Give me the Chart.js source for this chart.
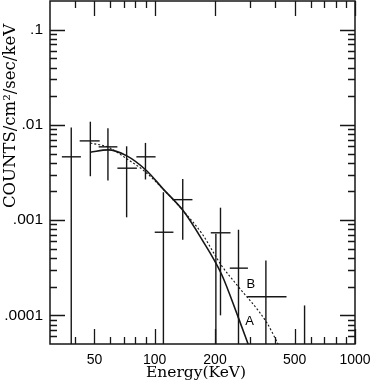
<!DOCTYPE html>
<html>
<head>
<meta charset="utf-8">
<script src="https://cdn.jsdelivr.net/npm/chart.js@4.4.1/dist/chart.umd.min.js"></script>
<style>
  html, body { margin: 0; padding: 0; background: #fff; }
</style>
</head>
<body>
<canvas id="chart" width="374" height="382"></canvas>
<script>
// measured spectrum points (keV, counts/cm2/sec/keV) with error bar ends
const energy   = [38.3, 47.7, 58.4, 72.4, 89.9, 110.5, 138, 202, 213, 262, 359, 560]
const energyLo = [34.4, 42.2, 52.5, 65.1, 81.0, 100, 122.5, 202, 190.5, 237, 289.5, 560]
const energyHi = [42.8, 53.1, 65.1, 81.5, 101, 124, 154.3, 202, 239, 292, 455, 560]
const counts   = [0.00462, 0.00679, 0.00588, 0.00351, 0.00462, 0.000746, 0.00164, 0.00003, 0.000736, 0.000313, 0.000157, 0.00003]
const countsLo = [1e-6, 0.00289, 0.0026, 0.00107, 0.00267, 1e-6, 0.000621, 1e-6, 0.0001, 1e-6, 1e-6, 1e-6]
const countsHi = [0.0094, 0.0108, 0.00921, 0.00596, 0.00647, 0.00196, 0.00271, 0.00072, 0.00135, 0.00079, 0.000377, 0.000127]

// model A (solid) and model B (dotted)
const energyA = [47.7, 58.4, 72.2, 90.9, 110, 138.5, 171, 215.6, 261, 293]
const fitA    = [0.00516, 0.00547, 0.00476, 0.00332, 0.00213, 0.00126, 0.00064, 0.00027, 0.0000957, 0.0000495]
const energyB = [47.7, 58.4, 72.2, 89, 111, 138.5, 172.4, 215.6, 261, 362, 413]
const fitB    = [0.00644, 0.00585, 0.00443, 0.00326, 0.00208, 0.00126, 0.000718, 0.000333, 0.000201, 0.0000843, 0.00005]

// curve labels
const curveNames  = ['A', 'B']
const curveLabelX = [298, 302]
const curveLabelY = [0.0000873, 0.000211]

// axes
const xTickValues = [50, 100, 200, 500, 1000]
const xTickLabels = ['50', '100', '200', '500', '1000']
const xMinorTicks = [40, 60, 70, 80, 90, 300, 400, 600, 700, 800, 900]
const yTickValues = [0.0001, 0.001, 0.01, 0.1]
const yTickLabels = ['.0001', '.001', '.01', '.1']
const yMinorTicks = [0.00006, 0.00007, 0.00008, 0.00009,
  0.0002, 0.0003, 0.0004, 0.0005, 0.0006, 0.0007, 0.0008, 0.0009,
  0.002, 0.003, 0.004, 0.005, 0.006, 0.007, 0.008, 0.009,
  0.02, 0.03, 0.04, 0.05, 0.06, 0.07, 0.08, 0.09]
const xTitle = 'Energy(KeV)'
const yTitle = 'COUNTS/cm\u00b2/sec/keV'

const INK = '#161616'

const datasets = []
energy.forEach((e, i) => {
  datasets.push({
    data: [{ x: energyLo[i], y: counts[i] }, { x: energyHi[i], y: counts[i] }],
    borderColor: INK, borderWidth: 1.4, pointRadius: 0
  })
  datasets.push({
    data: [{ x: e, y: countsLo[i] }, { x: e, y: countsHi[i] }],
    borderColor: INK, borderWidth: 1.4, pointRadius: 0
  })
})
datasets.push({
  data: energyA.map((e, i) => ({ x: e, y: fitA[i] })),
  borderColor: INK, borderWidth: 1.6, pointRadius: 0,
  cubicInterpolationMode: 'monotone'
})
datasets.push({
  data: energyB.map((e, i) => ({ x: e, y: fitB[i] })),
  borderColor: INK, borderWidth: 1.1, borderDash: [2, 2], pointRadius: 0,
  cubicInterpolationMode: 'monotone'
})

// frame, inward ticks on all four sides, curve names, axis titles
const framePlugin = {
  id: 'frame',
  afterDraw(chart) {
    const ctx = chart.ctx
    const a = chart.chartArea
    const xs = chart.scales.x
    const ys = chart.scales.y
    ctx.save()
    ctx.strokeStyle = INK
    ctx.lineWidth = 1.5
    ctx.strokeRect(a.left, a.top, a.right - a.left, a.bottom - a.top)

    ctx.beginPath()
    const xTick = (v, len) => {
      const px = Math.round(xs.getPixelForValue(v)) + 0.5
      ctx.moveTo(px, a.bottom); ctx.lineTo(px, a.bottom - len)
      ctx.moveTo(px, a.top); ctx.lineTo(px, a.top + len)
    }
    const yTick = (v, len) => {
      const py = Math.round(ys.getPixelForValue(v)) + 0.5
      ctx.moveTo(a.left, py); ctx.lineTo(a.left + len, py)
      ctx.moveTo(a.right, py); ctx.lineTo(a.right - len, py)
    }
    xTickValues.forEach(v => xTick(v, 15))
    xMinorTicks.forEach(v => xTick(v, 7))
    yTickValues.forEach(v => yTick(v, 15))
    yMinorTicks.forEach(v => yTick(v, 7))
    ctx.lineWidth = 1.3
    ctx.stroke()

    ctx.fillStyle = '#000'
    ctx.font = '13px "Liberation Sans", Arial, sans-serif'
    ctx.textAlign = 'center'
    ctx.textBaseline = 'middle'
    curveNames.forEach((n, i) => {
      ctx.fillText(n, xs.getPixelForValue(curveLabelX[i]), ys.getPixelForValue(curveLabelY[i]))
    })

    ctx.font = '15.5px "DejaVu Serif", serif'
    ctx.fillText(xTitle, 196, 373)

    ctx.translate(11, 116)
    ctx.rotate(-Math.PI / 2)
    ctx.font = '16.5px "DejaVu Serif", serif'
    ctx.fillText(yTitle, 0, 0)
    ctx.restore()
  }
}

const chart = new Chart(document.getElementById('chart'), {
  type: 'line',
  data: { datasets },
  options: {
    responsive: false,
    animation: false,
    layout: { padding: { top: 1, right: 19, left: 0, bottom: 0 } },
    plugins: { legend: { display: false }, tooltip: { enabled: false } },
    scales: {
      x: {
        type: 'logarithmic',
        min: 30,
        max: 1000,
        grid: { display: false, drawTicks: false },
        border: { display: false },
        afterBuildTicks: s => { s.ticks = xTickValues.map(v => ({ value: v })) },
        afterFit: s => {
          s.height = 38
          s.paddingLeft = 0
          s.paddingRight = 0
        },
        ticks: {
          autoSkip: false,
          maxRotation: 0,
          padding: 8,
          color: '#000',
          font: { family: '"Liberation Sans", Arial, sans-serif', size: 14 },
          callback: (v, i) => xTickLabels[i]
        }
      },
      y: {
        type: 'logarithmic',
        min: 0.00005,
        max: 0.2,
        grid: { display: false, drawTicks: false },
        border: { display: false },
        afterBuildTicks: s => { s.ticks = yTickValues.map(v => ({ value: v })) },
        afterFit: s => {
          s.width = 50
          s.paddingTop = 0
          s.paddingBottom = 0
        },
        ticks: {
          autoSkip: false,
          padding: 7,
          color: '#000',
          font: { family: '"Liberation Sans", Arial, sans-serif', size: 15.5 },
          callback: (v, i) => yTickLabels[i]
        }
      }
    }
  },
  plugins: [framePlugin]
})
</script>
</body>
</html>
